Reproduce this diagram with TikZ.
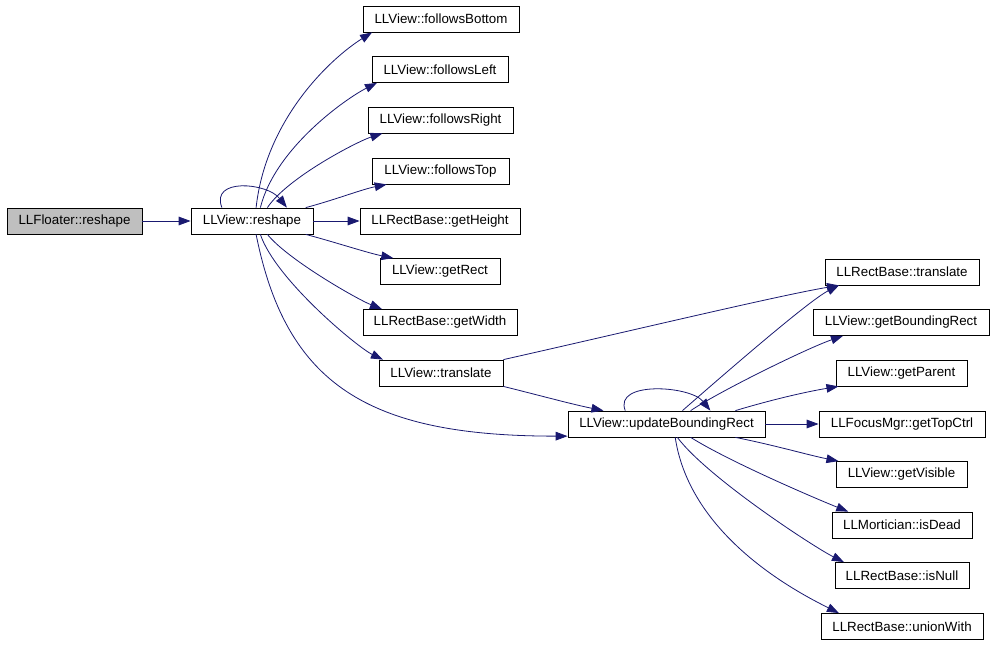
\documentclass[tikz,border=0pt]{standalone}
\usepackage{fontspec}
\setmainfont{Liberation Sans}
\usepackage{xcolor}
\usepackage{tikz}
\usetikzlibrary{arrows.meta}
\definecolor{edgeblue}{RGB}{25,25,112}
\tikzset{
    fnnode/.style = {rectangle, draw=black, align=center, fill=white, inner sep=0pt, minimum height=19.5pt, font=\fontsize{10pt}{12pt}\selectfont},
    fnnoder/.style = {fnnode, fill=black!25},
}
\begin{document}
\begin{tikzpicture}[
	x=0.75pt,
	y=-0.75pt,
	line width=0.6pt
]
\tikzset{
    edgen/.style = {draw=edgeblue, -{Triangle[length=9pt,width=6.5pt]}}
}
\useasboundingbox (0,0) rectangle (995,645);
\node[fnnoder, minimum width=101.25pt] at (74.5,221) (floater) {LLFloater::reshape};
\node[fnnode, minimum width=91.5pt] at (252,221) (vreshape) {LLView::reshape};
%
\node[fnnode, minimum width=117pt] at (441,19) (fbottom) {LLView::followsBottom};
\node[fnnode, minimum width=102pt] at (440,69.5) (fleft) {LLView::followsLeft};
\node[fnnode, minimum width=108.75pt] at (440.5,120) (fright) {LLView::followsRight};
\node[fnnode, minimum width=102.75pt] at (440.5,171) (ftop) {LLView::followsTop};
\node[fnnode, minimum width=120pt] at (440,221) (getheight) {LLRectBase::getHeight};
\node[fnnode, minimum width=90pt] at (440,271.5) (getrect) {LLView::getRect};
\node[fnnode, minimum width=115.5pt] at (440,322.5) (getwidth) {LLRectBase::getWidth};
\node[fnnode, minimum width=93pt] at (441,373) (vtranslate) {LLView::translate};
%
\node[fnnode, minimum width=147.75pt] at (666.5,424) (update) {LLView::updateBoundingRect};
%
\node[fnnode, minimum width=115.5pt] at (902,272) (rtranslate) {LLRectBase::translate};
\node[fnnode, minimum width=132pt] at (901,322.5) (gbrect) {LLView::getBoundingRect};
\node[fnnode, minimum width=98.25pt] at (901.5,373) (gparent) {LLView::getParent};
\node[fnnode, minimum width=124.5pt] at (902,424) (gtopctrl) {LLFocusMgr::getTopCtrl};
\node[fnnode, minimum width=98.25pt] at (901.5,474.5) (gvisible) {LLView::getVisible};
\node[fnnode, minimum width=105pt] at (902,525) (isdead) {LLMortician::isDead};
\node[fnnode, minimum width=100.5pt] at (902,575.5) (isnull) {LLRectBase::isNull};
\node[fnnode, minimum width=121.5pt] at (902,626.5) (unionwith) {LLRectBase::unionWith};
%
\draw[edgen] (floater) -- (vreshape);
%
\draw[edgen] (vreshape.156) .. controls +(-12,-30) and +(-20,-25) .. (vreshape.21);
\draw[edgen] (vreshape.73) .. controls +(10,-90) and +(-40,25) .. (fbottom.191);
\draw[edgen] (vreshape.58) .. controls +(15,-60) and +(-30,15) .. (fleft.192);
\draw[edgen] (vreshape.41) .. controls +(20,-30) and +(-25,8) .. (fright.193);
\draw[edgen] (vreshape.14) .. controls +(30,-8) and +(-25,5) .. (ftop.194);
\draw[edgen] (vreshape) -- (getheight);
\draw[edgen] (vreshape.-14) .. controls +(30,8) and +(-25,-5) .. (getrect.164);
\draw[edgen] (vreshape.-41) .. controls +(20,25) and +(-25,-10) .. (getwidth.167);
\draw[edgen] (vreshape.-58) .. controls +(15,45) and +(-25,-12) .. (vtranslate.167);
\draw[edgen] (vreshape.-73) .. controls +(30,150) and +(-200,0) .. (update.187);
%
\draw[edgen] (vtranslate.north east) .. controls +(120,-27) and +(-60,10) .. (rtranslate.192);
\draw[edgen] (vtranslate.south east) .. controls +(40,10) and +(-30,-6) .. (update.168);
%
\draw[edgen] (update.162) .. controls +(-12,-30) and +(-20,-25) .. (update.17);
\draw[edgen] (update.40) .. controls +(40,-35) and +(-30,15) .. (rtranslate.192);
\draw[edgen] (update.29) .. controls +(30,-20) and +(-35,12) .. (gbrect.193);
\draw[edgen] (update.11) .. controls +(40,-12) and +(-30,5) .. (gparent.192);
\draw[edgen] (update) -- (gtopctrl);
\draw[edgen] (update.-11) .. controls +(40,8) and +(-30,-6) .. (gvisible.168);
\draw[edgen] (update.-29) .. controls +(40,25) and +(-30,-12) .. (isdead.166);
\draw[edgen] (update.-51) .. controls +(30,40) and +(-30,-15) .. (isnull.167);
\draw[edgen] (update.-57) .. controls +(15,100) and +(-40,-20) .. (unionwith.168);
\end{tikzpicture}
\end{document}
